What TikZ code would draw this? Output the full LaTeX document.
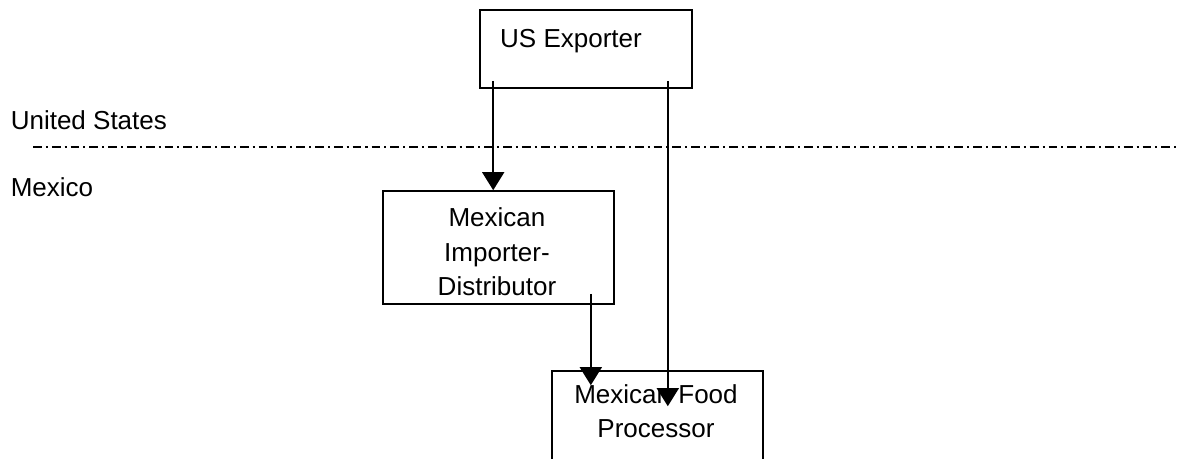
\documentclass[tikz,border=0pt]{standalone}
\usepackage{fontspec}
\setmainfont{Liberation Sans}
\usetikzlibrary{arrows.meta,positioning,calc}

\begin{document}
\begin{tikzpicture}[
    x=0.025cm, y=-0.025cm,
    >={Triangle[width=0.55cm,length=0.45cm]},
    line width=1.1pt,
    box/.style={draw, rectangle, inner sep=0pt},
    txt/.style={inner sep=0pt, align=center, font=\fontsize{18.5}{24.5}\selectfont},
    border/.style={dash pattern=on 0.22cm off 0.1cm on 0.05cm off 0.1cm}
]
    \useasboundingbox (0,0) rectangle (1177,459);
    \clip (0,0) rectangle (1177,459);

    % boxes
    \node[box, minimum width=5.3cm, minimum height=1.95cm] (Exporter) at (586,49) {};
    \node[txt] (ExporterText) at (571,41) {US Exporter};

    \node[box, minimum width=5.775cm, minimum height=2.825cm] (Importer) at (498.5,247.5) {};
    \node[txt] (ImporterText) at (497,252) {Mexican\\Importer-\\Distributor};

    \node[box, minimum width=5.275cm, minimum height=2.75cm] (Food) at (657.5,426) {};
    \node[txt] (FoodText) at (656,411) {Mexican Food\\Processor};

    % border
    \node[txt, anchor=west] (US) at (10,120) {United States};
    \node[txt, anchor=west] (MX) at (10,187) {Mexico};
    \coordinate (BorderL) at (33,147);
    \coordinate (BorderR) at (1177,147);
    \draw[border] (BorderL) -- (BorderR);

    % flows
    \coordinate (Exp_l) at ($(Exporter.south west) + (14,-8)$);
    \coordinate (Exp_r) at ($(Exporter.south east) + (-25,-8)$);
    \coordinate (Imp_o) at ($(Importer.south east) + (-24,-11)$);
    \coordinate (Food_a) at ($(Food.north) + (0,15)$);
    \coordinate (Food_b) at ($(Food.north) + (0,36)$);

    \draw[->] (Exp_l) -- (Exp_l |- Importer.north);
    \draw[->] (Exp_r) -- (Exp_r |- Food_b);
    \draw[->] (Imp_o) -- (Imp_o |- Food_a);

\end{tikzpicture}
\end{document}
